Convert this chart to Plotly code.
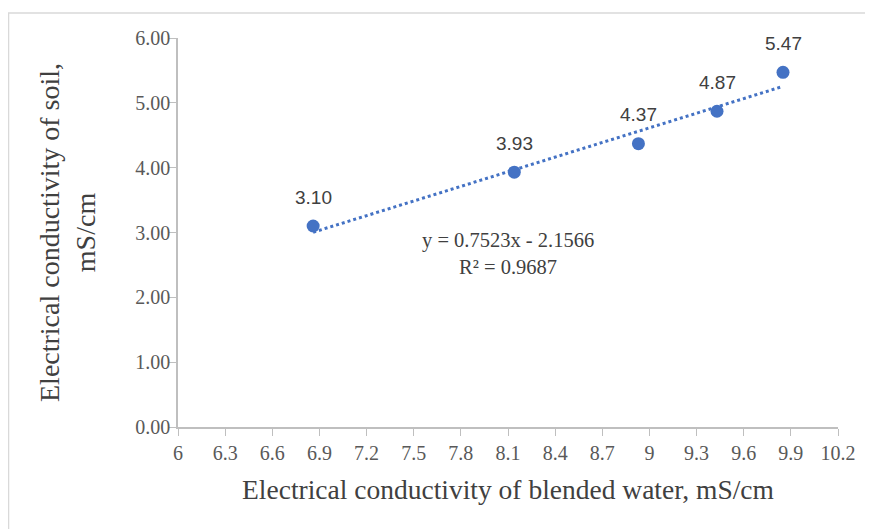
import plotly.graph_objects as go

ec_water = [6.86, 8.14, 8.93, 9.43, 9.85]
ec_soil = [3.10, 3.93, 4.37, 4.87, 5.47]
slope = 0.7523
intercept = -2.1566
r2 = 0.9687
x_ticks = [6, 6.3, 6.6, 6.9, 7.2, 7.5, 7.8, 8.1, 8.4, 8.7, 9, 9.3, 9.6, 9.9, 10.2]
x_tick_labels = ["6", "6.3", "6.6", "6.9", "7.2", "7.5", "7.8", "8.1", "8.4", "8.7", "9", "9.3", "9.6", "9.9", "10.2"]
y_ticks = [0, 1, 2, 3, 4, 5, 6]

blue = "#4472C4"
serif = "Liberation Serif"

trend_x = [min(ec_water), max(ec_water)]
trend_y = [slope * v + intercept for v in trend_x]

fig = go.Figure()
fig.add_trace(go.Scatter(x=trend_x, y=trend_y, mode="lines",
                         line=dict(color=blue, width=3, dash="dot"),
                         showlegend=False, hoverinfo="skip"))
fig.add_trace(go.Scatter(x=ec_water, y=ec_soil, mode="markers",
                         marker=dict(color=blue, size=13),
                         showlegend=False))

for xv, yv in zip(ec_water, ec_soil):
    fig.add_annotation(x=xv, y=yv, text=f"{yv:.2f}", showarrow=False,
                       yshift=29, font=dict(family="Liberation Sans", size=19, color="#404040"))

fig.add_annotation(xref="paper", yref="paper", x=0.5, y=0.445,
                   text=f"y = {slope}x - {abs(intercept)}<br>R² = {r2}",
                   showarrow=False, align="center",
                   font=dict(family=serif, size=20.5, color="#404040"))

fig.add_shape(type="rect", xref="paper", yref="paper",
              x0=-0.2568, x1=1.1, y0=-0.4, y1=1.0643,
              line=dict(color="#D9D9D9", width=1.5), layer="below")

fig.update_layout(
    width=873, height=529,
    margin=dict(l=170, r=43, t=30, b=110),
    paper_bgcolor="white", plot_bgcolor="white",
    xaxis=dict(range=[6, 10.2], tickvals=x_ticks, ticktext=x_tick_labels,
               showgrid=False, zeroline=False, showline=True,
               linecolor="#BFBFBF", linewidth=1.5,
               ticks="outside", ticklen=7, tickcolor="#BFBFBF",
               tickfont=dict(family=serif, size=20, color="#595959"),
               title=dict(text="Electrical conductivity of blended water, mS/cm",
                          font=dict(family=serif, size=27.5, color="#404040"),
                          standoff=17)),
    yaxis=dict(range=[0, 6], tickvals=y_ticks, tickformat=".2f",
               showgrid=False, zeroline=False, showline=True,
               linecolor="#BFBFBF", linewidth=1.5,
               ticks="outside", ticklen=7, tickcolor="#BFBFBF",
               ticklabelstandoff=-5,
               tickfont=dict(family=serif, size=20, color="#595959"),
               title=dict(text="Electrical conductivity of soil,<br>mS/cm",
                          font=dict(family=serif, size=28, color="#404040"),
                          standoff=31)),
)

fig.write_html("out.html")
